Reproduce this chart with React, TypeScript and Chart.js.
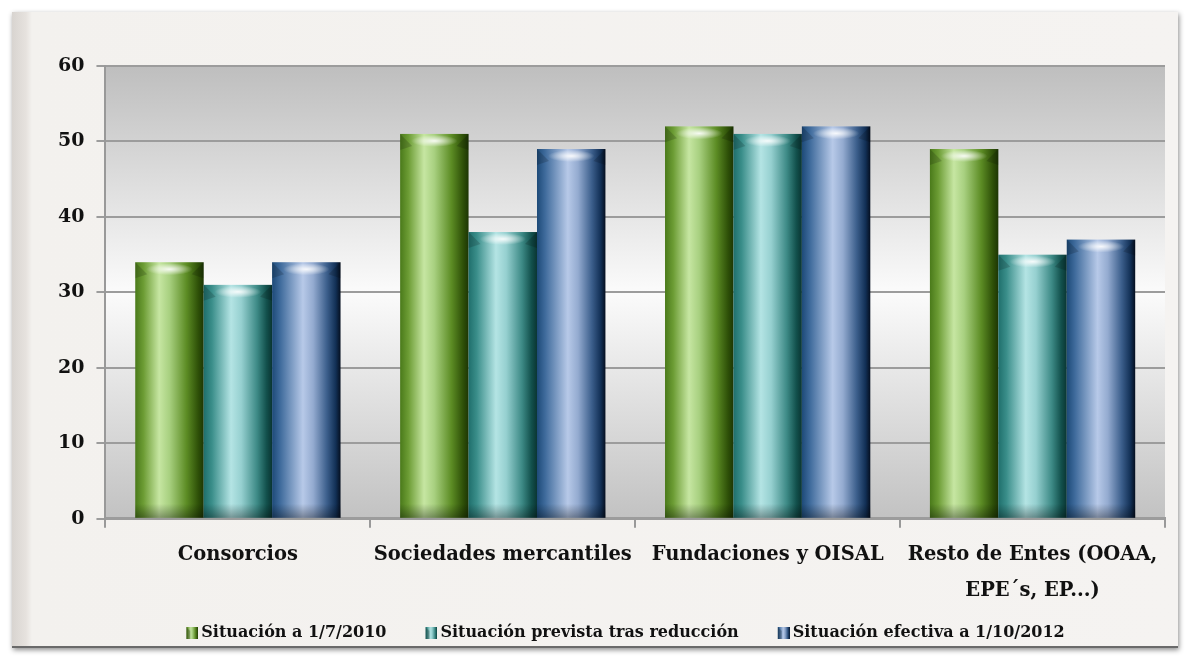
import React, { useEffect, useRef } from "react";
import { Chart, registerables } from "chart.js";

Chart.register(...registerables);

const categories: (string | string[])[] = [
  "Consorcios",
  "Sociedades mercantiles",
  "Fundaciones y OISAL",
  ["Resto de Entes (OOAA,", "EPE´s, EP...)"],
];
const seriesNames = [
  "Situación a 1/7/2010",
  "Situación prevista tras reducción",
  "Situación efectiva a 1/10/2012",
];
const situacion2010 = [34, 51, 52, 49];
const previstaReduccion = [31, 38, 51, 35];
const efectiva2012 = [34, 49, 52, 37];
const yTicks = [0, 10, 20, 30, 40, 50, 60];

const FONT = "'DejaVu Serif', serif";

const palettes: [number, string][][] = [
  [
    [0, "#4a7a1a"], [0.12, "#6c9c34"], [0.35, "#c6e6a2"], [0.5, "#a8d080"],
    [0.75, "#5c8c24"], [0.92, "#2e5008"], [1, "#1d3604"],
  ],
  [
    [0, "#1f6f6c"], [0.12, "#3a8e8a"], [0.4, "#b4e4e4"], [0.55, "#96d0d0"],
    [0.78, "#3d8a86"], [0.92, "#12504c"], [1, "#0a3532"],
  ],
  [
    [0, "#1d4a78"], [0.12, "#3f6b9c"], [0.45, "#b7c9e8"], [0.6, "#94abd0"],
    [0.8, "#3c5f8c"], [0.93, "#123056"], [1, "#050f20"],
  ],
];

// legend icon: wide transparent canvas with the 12px swatch at its right side
const ICON_W = 49;
const BOX_W = 39;
function makeIcon(stops: [number, string][]) {
  const c = document.createElement("canvas");
  c.width = ICON_W;
  c.height = 12;
  const g = c.getContext("2d")!;
  const x0 = ICON_W - 12;
  const lg = g.createLinearGradient(x0, 0, x0 + 12, 0);
  stops.forEach(([o, col]) => lg.addColorStop(o, col));
  g.fillStyle = lg;
  g.fillRect(x0, 0, 12, 12);
  g.fillStyle = "rgba(0,0,0,0.25)";
  g.beginPath();
  g.moveTo(x0, 0); g.lineTo(x0 + 4, 4); g.lineTo(x0 + 4, 12); g.lineTo(x0, 12); g.closePath();
  g.fill();
  return c;
}

const plotBgPlugin = {
  id: "plotBg",
  afterLayout(chart: any) {
    if (chart.legend) {
      chart.legend.left += 4;
      chart.legend.right += 4;
    }
  },
  beforeDraw(chart: any) {
    const { ctx, chartArea: a } = chart;
    ctx.save();
    const g = ctx.createLinearGradient(0, a.top, 0, a.bottom);
    g.addColorStop(0, "#bebebe");
    g.addColorStop(0.5, "#fbfbfb");
    g.addColorStop(1, "#c2c2c2");
    ctx.fillStyle = g;
    ctx.fillRect(a.left, a.top, a.right - a.left, a.bottom - a.top);
    ctx.restore();
  },
};

const barsPlugin = {
  id: "cylBars",
  afterDatasetsDraw(chart: any) {
    const { ctx } = chart;
    chart.data.datasets.forEach((ds: any, di: number) => {
      const meta = chart.getDatasetMeta(di);
      if (meta.hidden) return;
      meta.data.forEach((el: any) => {
        const { x, y, base, width } = el.getProps(["x", "y", "base", "width"], true);
        const l = x - width / 2;
        const r = x + width / 2;
        const h = base - y;
        ctx.save();
        const g = ctx.createLinearGradient(l, 0, r, 0);
        palettes[di].forEach(([o, c]) => g.addColorStop(o, c));
        ctx.fillStyle = g;
        ctx.fillRect(l, y, width, h);
        // top bevel sides
        ctx.fillStyle = "rgba(0,0,0,0.16)";
        ctx.beginPath();
        ctx.moveTo(l, y); ctx.lineTo(l + 12, y + 12); ctx.lineTo(l, y + 16); ctx.closePath();
        ctx.fill();
        ctx.beginPath();
        ctx.moveTo(r, y); ctx.lineTo(r - 12, y + 12); ctx.lineTo(r, y + 16); ctx.closePath();
        ctx.fill();
        // highlight
        ctx.translate(x, y + 7);
        ctx.scale(width * 0.34, 6);
        const rg = ctx.createRadialGradient(0, 0, 0, 0, 0, 1);
        rg.addColorStop(0, "rgba(255,255,255,0.9)");
        rg.addColorStop(0.5, "rgba(255,255,255,0.45)");
        rg.addColorStop(1, "rgba(255,255,255,0)");
        ctx.fillStyle = rg;
        ctx.beginPath();
        ctx.arc(0, 0, 1, 0, Math.PI * 2);
        ctx.fill();
        ctx.restore();
        // bottom shade
        ctx.save();
        const bg = ctx.createLinearGradient(0, base - 14, 0, base);
        bg.addColorStop(0, "rgba(0,0,0,0)");
        bg.addColorStop(1, "rgba(0,0,0,0.35)");
        ctx.fillStyle = bg;
        ctx.fillRect(l, base - 14, width, 14);
        ctx.restore();
      });
    });
  },
};

export default function App() {
  const ref = useRef<HTMLCanvasElement>(null);
  useEffect(() => {
    const icons = palettes.map(makeIcon);
    const values = [situacion2010, previstaReduccion, efectiva2012];
    const chart = new Chart(ref.current!, {
      type: "bar",
      data: {
        labels: categories,
        datasets: seriesNames.map((n, i) => ({
          label: n,
          data: values[i],
          backgroundColor: "rgba(0,0,0,0)",
          borderWidth: 0,
          pointStyle: icons[i] as any,
          barPercentage: 1,
          categoryPercentage: 0.775,
        })),
      },
      options: {
        animation: false,
        responsive: false,
        maintainAspectRatio: false,
        layout: { padding: { left: 46, right: 24, top: 66, bottom: 9 } },
        plugins: {
          tooltip: { enabled: false },
          legend: {
            position: "bottom",
            labels: {
              usePointStyle: true,
              pointStyleWidth: BOX_W,
              font: { family: FONT, size: 16, weight: "bold" },
              color: "#111",
              padding: 7,
              boxHeight: 12,
            },
          },
        },
        scales: {
          x: {
            grid: {
              display: true,
              drawOnChartArea: false,
              drawTicks: true,
              tickLength: 9,
              color: "#999",
              lineWidth: 2,
              offset: true,
            },
            border: { color: "#9c9c9c", width: 3 },
            ticks: {
              font: { family: FONT, size: 19.5, weight: "bold", lineHeight: 1.8 },
              color: "#111",
              padding: 10,
              maxRotation: 0,
              autoSkip: false,
            },
          },
          y: {
            min: 0,
            max: 60,
            afterBuildTicks: (s: any) => {
              s.ticks = yTicks.map((v) => ({ value: v }));
            },
            grid: { color: "#9c9c9c", lineWidth: 2, tickLength: 9 },
            border: { color: "#999", width: 2 },
            ticks: {
              font: { family: FONT, size: 19, weight: "bold" },
              color: "#111",
              padding: 12,
            },
          },
        },
      },
      plugins: [plotBgPlugin, barsPlugin],
    });
    return () => chart.destroy();
  }, []);

  return (
    <div style={{ position: "absolute", left: 0, top: 0, width: 1189, height: 660, background: "#fff", overflow: "hidden" }}>
      <div
        style={{
          position: "absolute",
          left: 12,
          top: 12,
          width: 1166,
          height: 634,
          background:
            "linear-gradient(to right, #d8d4d0 0px, #e6e2de 14px, #f3f1ee 20px, #f5f3f1 100%)",
          boxShadow: "1px 2px 5px rgba(0,0,0,0.45)",
          borderBottom: "2px solid #6a6a6a",
        }}
      />
      <canvas ref={ref} width={1189} height={660} style={{ position: "absolute", left: 0, top: 0 }} />
    </div>
  );
}
